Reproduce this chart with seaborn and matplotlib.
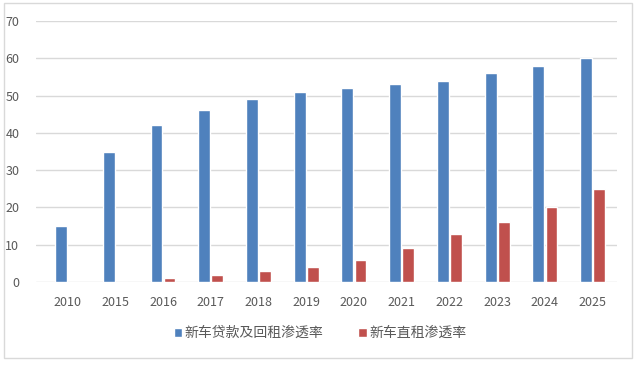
import pandas as pd
import matplotlib
matplotlib.use('Agg')
import matplotlib.pyplot as plt
import seaborn as sns
from matplotlib.patches import Rectangle

# Data
years = ['2010', '2015', '2016', '2017', '2018', '2019', '2020', '2021', '2022', '2023', '2024', '2025']
loan_rate = [15, 35, 42, 46, 49, 51, 52, 53, 54, 56, 58, 60]
lease_rate = [0, 0, 1, 2, 3, 4, 6, 9, 13, 16, 20, 25]
series_names = ['新车贷款及回租渗透率', '新车直租渗透率']
colors = ['#4F81BD', '#C0504D']

df = pd.DataFrame({
    'year': years * 2,
    'value': loan_rate + lease_rate,
    'series': [series_names[0]] * len(years) + [series_names[1]] * len(years),
})

sns.set_style('white')
plt.rcParams['font.family'] = ['Noto Sans CJK SC', 'DejaVu Sans']

fig = plt.figure(figsize=(6.4, 3.65), dpi=100)
ax = fig.add_axes([36 / 640, 1 - 282 / 365, (617 - 36) / 640, (282 - 21) / 365])

sns.barplot(data=df, x='year', y='value', hue='series', palette=colors,
            width=0.55, gap=0.1, saturation=1, ax=ax, legend=True)

ax.set_ylim(0, 70)
ax.set_xlim(-0.66, 11.51)
ax.set_yticks(range(0, 71, 10))
ax.yaxis.grid(True, color='#D9D9D9', linewidth=1)
ax.set_axisbelow(True)
for s in ax.spines.values():
    s.set_visible(False)
ax.set_xlabel('')
ax.set_ylabel('')
ax.tick_params(axis='both', length=0, labelsize=9, colors='#595959')
ax.tick_params(axis='x', pad=10)
ax.tick_params(axis='y', pad=12)

handles, labels = ax.get_legend_handles_labels()
ax.legend(handles, labels, loc='center', bbox_to_anchor=(0.5, 1 - 333 / 365),
          bbox_transform=fig.transFigure, ncol=2, frameon=False, fontsize=10,
          handlelength=0.6, handleheight=0.6, handletextpad=0.2, columnspacing=2.5,
          labelcolor='#595959')

fig.patches.append(Rectangle((4 / 640, 1 - 358 / 365), 628 / 640, 355 / 365,
                             transform=fig.transFigure, fill=False,
                             edgecolor='#D9D9D9', linewidth=1))

fig.savefig('out.png', dpi=100)
